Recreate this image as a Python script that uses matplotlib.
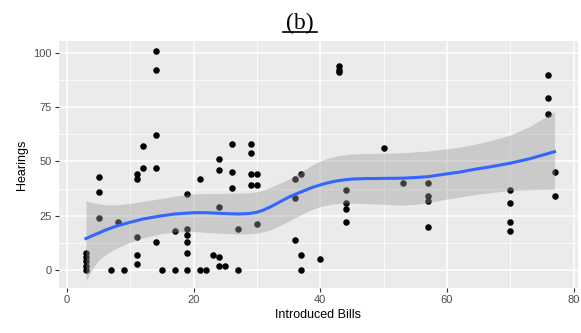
import matplotlib
matplotlib.use("Agg")
import matplotlib.pyplot as plt
from matplotlib.lines import Line2D

# scatter data: introduced bills vs hearings
bills = [3, 3, 3, 3, 3, 5, 5, 5, 7, 8, 9,
         11, 11, 11, 11, 11, 12, 12, 14, 14, 14, 14, 14, 15, 17, 17,
         19, 19, 19, 19, 19, 19, 21, 21, 22, 23, 24, 24, 24, 24, 24, 25,
         26, 26, 26, 27, 27, 29, 29, 29, 29, 30, 30, 30,
         36, 36, 36, 37, 37, 37, 40, 43, 43, 43, 44, 44, 44, 44, 50,
         53, 57, 57, 57, 57, 70, 70, 70, 70, 76, 76, 76, 77, 77]
hearings = [0, 2, 4, 6, 8, 43, 36, 24, 0, 22, 0,
            44, 42, 15, 7, 3, 57, 47, 101, 92, 62, 47, 13, 0, 0, 18,
            35, 19, 16, 13, 8, 0, 42, 0, 0, 7, 51, 46, 29, 6, 2, 2,
            58, 45, 38, 19, 0, 58, 54, 44, 39, 44, 39, 21,
            42, 33, 14, 44, 7, 0, 5, 94, 92, 91, 37, 31, 28, 22, 56,
            40, 40, 34, 32, 20, 37, 31, 22, 18, 90, 79, 72, 45, 34]

# loess smooth and its confidence band
smooth_x = [3, 4, 5, 6, 7, 8, 10, 12, 15, 17,
            20, 22, 25, 27, 28, 29, 30, 31, 32, 33,
            34, 35, 36, 37, 38, 39, 40, 41, 42, 43,
            44, 45, 47, 50, 53, 55, 57, 60, 62, 65,
            67, 70, 73, 77]
smooth_fit = [14.5, 15.8, 17, 18.3, 19.4, 20.4, 22, 23.5, 25, 25.8,
              26.4, 26.4, 26, 25.8, 25.9, 26.1, 26.6, 27.6, 28.9, 30.4,
              32, 33.5, 34.8, 36, 37.2, 38.3, 39.2, 40, 40.7, 41.2,
              41.6, 41.9, 42.1, 42.2, 42.3, 42.6, 43, 44.3, 45.1, 46.7,
              47.6, 49.2, 51.2, 54.5]
smooth_hi = [32, 31, 30.5, 30.1, 30, 30.1, 30.7, 31.6, 33, 34,
             35, 35.2, 35.3, 35.4, 35.5, 35.7, 36, 36.8, 38, 39.2,
             40.5, 41.8, 43.5, 45.2, 47, 48.8, 50.3, 51.3, 52.1, 52.7,
             53.1, 53.4, 53.7, 53.8, 54, 54.4, 54.8, 55.8, 56.6, 58.3,
             59.7, 62.2, 66, 73]
smooth_lo = [-5, 0.5, 4.5, 6.8, 8.7, 10.3, 12.8, 14.8, 16.8, 17.5,
             17.7, 17.3, 16.8, 16.6, 16.6, 16.7, 17, 17.6, 18.4, 19.6,
             21, 22.5, 24, 25.5, 27, 28.2, 29.2, 29.9, 30.4, 30.7,
             30.8, 30.8, 30.6, 30.2, 29.9, 30.2, 31, 32.7, 33.6, 35,
             35.7, 36.6, 37, 37.2]

x_ticks = [0, 20, 40, 60, 80]
y_ticks = [0, 25, 50, 75, 100]

fig = plt.figure(figsize=(5.81, 3.33), dpi=100)
ax = fig.add_axes([0.1015, 0.135, 0.8933, 0.742])
ax.set_facecolor("#ebebeb")

ax.set_xlim(-1.26, 80.7)
ax.set_ylim(-8.3, 105.5)
ax.set_xticks(x_ticks)
ax.set_yticks(y_ticks)
ax.set_xticks([10, 30, 50, 70], minor=True)
ax.set_yticks([12.5, 37.5, 62.5, 87.5], minor=True)
ax.grid(which="major", color="white", linewidth=1.1)
ax.grid(which="minor", color="white", linewidth=0.55)
ax.set_axisbelow(True)
for s in ax.spines.values():
    s.set_visible(False)

ax.tick_params(which="major", direction="out", length=3, width=0.8, color="#333333",
               labelcolor="#4d4d4d", labelsize=8, pad=2)
ax.tick_params(which="minor", length=0)
for lab in ax.get_xticklabels() + ax.get_yticklabels():
    lab.set_family(["Liberation Sans Narrow", "Liberation Sans", "DejaVu Sans"])

ax.scatter(bills, hearings, s=22, color="black", linewidths=0, zorder=2)
ax.fill_between(smooth_x, smooth_lo, smooth_hi, color="#999999", alpha=0.4,
                linewidth=0, zorder=3)
ax.plot(smooth_x, smooth_fit, color="#3366ff", linewidth=2.2, zorder=4,
        solid_joinstyle="round")

ax.set_xlabel("Introduced Bills", fontsize=9, family="Liberation Sans", labelpad=3)
ax.set_ylabel("Hearings", fontsize=9, family="Liberation Sans", labelpad=4)

fig.text(0.516, 0.913, "(b)", ha="center", va="baseline", fontsize=17,
         family="Liberation Serif")
fig.add_artist(Line2D([0.487, 0.546], [0.903, 0.903], color="black", linewidth=1.2,
                      transform=fig.transFigure))

fig.savefig("out.png", dpi=100)
